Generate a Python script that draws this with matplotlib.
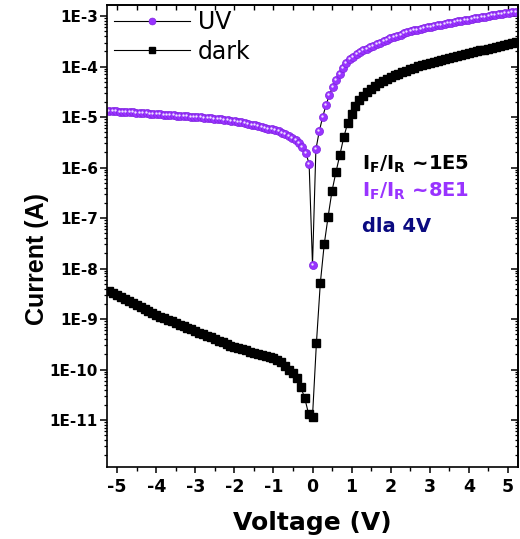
import numpy as np
import matplotlib
matplotlib.use('Agg')
import matplotlib.pyplot as plt
from matplotlib.ticker import FuncFormatter, LogLocator, MultipleLocator, NullFormatter
from matplotlib.transforms import offset_copy

plt.rcParams['font.family'] = 'DejaVu Sans'
plt.rcParams['axes.unicode_minus'] = False
plt.rcParams['mathtext.fontset'] = 'custom'
plt.rcParams['mathtext.rm'] = 'DejaVu Sans:bold'
plt.rcParams['mathtext.bf'] = 'DejaVu Sans:bold'

# voltage sweeps (UV has finer steps than dark)
uv_voltage = np.linspace(-5.2, 5.2, 121)
dark_voltage = np.linspace(-5.2, 5.2, 105)

# log10 of current (A)
uv_log_current = [
    -4.880, -4.884, -4.888, -4.892, -4.896, -4.900, -4.904, -4.908, -4.911, -4.915,
    -4.920, -4.925, -4.930, -4.935, -4.941, -4.946, -4.951, -4.956, -4.962, -4.967,
    -4.972, -4.978, -4.983, -4.988, -4.993, -4.998, -5.003, -5.008, -5.013, -5.019,
    -5.024, -5.030, -5.037, -5.045, -5.053, -5.061, -5.070, -5.080, -5.093, -5.106,
    -5.119, -5.133, -5.147, -5.162, -5.178, -5.194, -5.210, -5.226, -5.243, -5.262,
    -5.285, -5.31, -5.34, -5.37, -5.41, -5.46, -5.52, -5.60, -5.71, -5.92,
    -7.93,
    -5.64, -5.28, -5.00, -4.76, -4.56, -4.40, -4.26, -4.14, -4.03, -3.92,
    -3.855, -3.80, -3.75, -3.71, -3.68, -3.65, -3.62, -3.59, -3.56, -3.53,
    -3.50, -3.47, -3.44, -3.42, -3.39, -3.37, -3.34, -3.32, -3.30, -3.285,
    -3.27, -3.255, -3.24, -3.225, -3.21, -3.20, -3.185, -3.17, -3.16, -3.145,
    -3.13, -3.12, -3.105, -3.09, -3.08, -3.07, -3.057, -3.045, -3.033, -3.02,
    -3.01, -2.998, -2.986, -2.975, -2.963, -2.952, -2.94, -2.93, -2.92, -2.91,
]
dark_log_current = [
    -8.44, -8.48, -8.52, -8.56, -8.60, -8.64, -8.68, -8.72, -8.76, -8.80,
    -8.84, -8.88, -8.92, -8.95, -8.98, -9.01, -9.04, -9.08, -9.11, -9.14,
    -9.17, -9.20, -9.24, -9.27, -9.30, -9.33, -9.36, -9.40, -9.43, -9.46,
    -9.50, -9.53, -9.56, -9.58, -9.60, -9.62, -9.65, -9.67, -9.69, -9.71,
    -9.73, -9.75, -9.78, -9.81, -9.86, -9.93, -10.00, -10.07, -10.16, -10.35,
    -10.56, -10.88, -10.93,
    -9.48, -8.29, -7.52, -6.97, -6.46, -6.09, -5.75, -5.40, -5.12, -4.93,
    -4.78, -4.67, -4.58, -4.50, -4.44, -4.38, -4.33, -4.28, -4.24, -4.20,
    -4.17, -4.14, -4.11, -4.08, -4.05, -4.02, -3.99, -3.97, -3.95, -3.93,
    -3.91, -3.89, -3.87, -3.85, -3.83, -3.81, -3.79, -3.77, -3.75, -3.73,
    -3.715, -3.70, -3.68, -3.665, -3.645, -3.63, -3.61, -3.59, -3.575, -3.555,
    -3.54, -3.52,
]

uv_current = 10 ** np.array(uv_log_current)
dark_current = 10 ** np.array(dark_log_current)

purple = '#9933FF'

fig = plt.figure(figsize=(5.2, 5.39), dpi=100)
ax = fig.add_axes([107 / 520, 1 - 467 / 539, 411 / 520, 462 / 539])

ax.plot(uv_voltage, uv_current, color='k', lw=0.8, marker='o', ms=5.8,
        mfc=purple, mec='#7F22E0', mew=0.5, label='UV')
# small highlight on each sphere
hl = offset_copy(ax.transData, fig=fig, x=-1.0, y=1.0, units='dots')
ax.plot(uv_voltage, uv_current, ls='none', marker='o', ms=1.7,
        mfc='#EEE2FF', mec='none', transform=hl)
ax.plot(dark_voltage, dark_current, color='k', lw=0.8, marker='s', ms=5.6,
        mfc='k', mec='k', label='dark')

ax.set_yscale('log')
ax.set_xlim(-5.26, 5.26)
ax.set_ylim(10 ** -11.93, 10 ** -2.78)

ax.yaxis.set_major_locator(LogLocator(base=10, numticks=20))
ax.yaxis.set_minor_locator(LogLocator(base=10, subs=np.arange(2, 10), numticks=20))
ax.yaxis.set_minor_formatter(NullFormatter())
ax.yaxis.set_major_formatter(FuncFormatter(lambda v, p: '1E%d' % round(np.log10(v))))
ax.xaxis.set_major_locator(MultipleLocator(1))
ax.xaxis.set_minor_locator(MultipleLocator(0.5))

for s in ax.spines.values():
    s.set_linewidth(1.2)

ax.tick_params(axis='y', which='major', direction='out', length=5, width=1.1, pad=1.5,
               labelsize=11)
ax.tick_params(axis='y', which='minor', direction='out', length=2.5, width=0.9)
ax.tick_params(axis='x', which='major', direction='out', length=4, width=1.1, pad=4,
               labelsize=12.5)
ax.tick_params(axis='x', which='minor', direction='out', length=3, width=1.0)
for lab in ax.get_xticklabels() + ax.get_yticklabels():
    lab.set_fontweight('bold')

# mirrored ticks pointing inward on top and right
top = ax.secondary_xaxis('top')
top.xaxis.set_major_locator(MultipleLocator(1))
top.xaxis.set_minor_locator(MultipleLocator(0.5))
top.tick_params(which='both', direction='in', labeltop=False, length=3.5, width=1.0)
top.spines['top'].set_linewidth(1.2)

right = ax.secondary_yaxis('right')
right.yaxis.set_major_locator(LogLocator(base=10, numticks=20))
right.yaxis.set_minor_locator(LogLocator(base=10, subs=np.arange(2, 10), numticks=20))
right.tick_params(which='major', direction='in', labelright=False, length=5, width=1.1)
right.tick_params(which='minor', direction='in', labelright=False, length=2.5, width=0.9)
right.spines['right'].set_linewidth(1.2)

ax.set_xlabel('Voltage (V)', fontsize=18, fontweight='bold')
ax.xaxis.set_label_coords(0.5, -0.095)
ax.xaxis.label.set_va('top')
ax.set_ylabel('Current (A)', fontsize=18, fontweight='bold', family='Liberation Sans')
ax.yaxis.set_label_coords(-0.14, 0.45)

ax.legend(loc='upper left', bbox_to_anchor=(-0.005, 1.01), frameon=False, fontsize=17,
          handlelength=3.2, handletextpad=0.35, labelspacing=0.25, borderaxespad=0,
          numpoints=1, markerscale=0.85)

ax.text(0.62, 0.643, r'I$_\mathrm{F}$/I$_\mathrm{R}$ ~1E5', transform=ax.transAxes,
        fontsize=14, fontweight='bold', color='k', va='baseline')
ax.text(0.62, 0.584, r'I$_\mathrm{F}$/I$_\mathrm{R}$ ~8E1', transform=ax.transAxes,
        fontsize=14, fontweight='bold', color=purple, va='baseline')
ax.text(0.62, 0.509, 'dla 4V', transform=ax.transAxes,
        fontsize=14, fontweight='bold', color='#0A0A80', va='baseline')

fig.savefig('out.png', dpi=100)
